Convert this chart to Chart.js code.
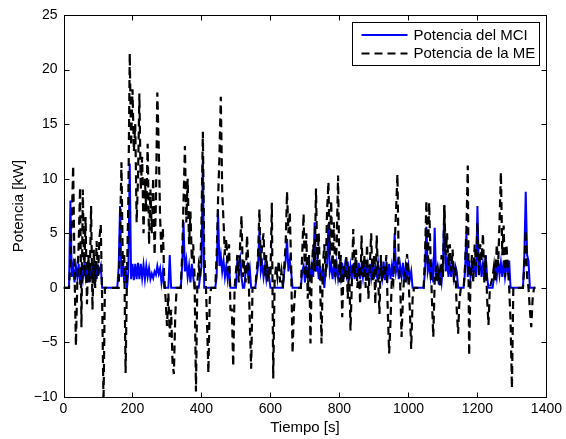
<!DOCTYPE html>
<html>
<head>
<meta charset="utf-8">
<script src="https://cdn.jsdelivr.net/npm/chart.js@4.4.0/dist/chart.umd.min.js"></script>
<style>
  html, body { margin: 0; padding: 0; background: #fff; }
  #wrap { width: 566px; height: 439px; }
</style>
</head>
<body>
<div id="wrap"><canvas id="powerChart" width="566" height="439"></canvas></div>
<script>
// logged signals, one sample every 4 s (t = 0 ... 1368 s)
const sampleStep = 4;

// Potencia de la ME [kW]
const mePower = [
  0, 0, 0, 0, 0, 2.5, 6, 11.2, 1.5, -5.3,            // 0
  0.5, 4, 9.2, -3.6, 9, 1, 6.5, -1.5, 3, 0.5,         // 40
  7.5, -2, 3.5, 0, 4.3, 1, 4.5, 5.8, -1, -10.5,       // 80
  0, 0, 0, 0, 0, 0, 0, 0, 0, 0,                       // 120
  0, 5, 11.5, 2, 3, -7.8, 1, 8, 21.5, 13,             // 160
  18.2, 12.5, 15, 6, 10, 17.8, 9, 12, 5, 10,          // 200
  7, 13.2, 4, 9, 5, 10.1, 3, 8, 17.9, 13,             // 240
  6.5, 3, 5.5, 1, -1, -3.5, -0.5, -4.5, -2, -6.8,     // 280
  -7.9, -2.5, 0, 0, 0, 0, 3, 8, 13, 6,                // 320
  10, 4, 7, 2.5, 4, 1, -9.5, 0.5, 2, 1,               // 360
  6, 14.3, 3, 1, -3, -7.8, -1, 0, 0, 0,               // 400
  0, 3, 8, 12, 17.5, 9, 6, 3, 4.5, 1.5,               // 440
  4, -2, -2, -7.2, 0, 1.5, 3, 0.5, 4, 6.6,            // 480
  1, 2.5, 0.5, 4.8, 2, -3, -7.4, 0, 0, 0,             // 520
  1.5, 3, 7.2, 2, 4, 5, 1, 3, 0.5, 2,                 // 560
  1, 7.8, -8.3, 0.5, 2, 1, 2.5, 0.5, 1.5, 0,          // 600
  2, 4, 8.8, 5, 7, 2, -6, -2, 0, 0,                   // 640
  0, 0, 0, 3, 6.8, 1, 5, -1, 3, -5.1,                 // 680
  2, 4, 1.5, 9.1, 2, 5, 0.5, -5.1, 2, 4,              // 720
  1, 7, 9.7, 3, 8, 2, 6, 1, 4, 10.3,                  // 760
  0.5, 3, -2.7, 2, 1, 3, -1, 2, -3.9, 0.5,            // 800
  5.4, 1, 3.5, 0, 2, -1.5, 4.8, 1, 3, 0,              // 840
  4, -1, 2, 5, 0.5, 3, -1.5, 4.8, 1, -2.4,            // 880
  3, 0.5, 2, 1, 3, -2, -6, -3, 1, 0.5,                // 920
  4, 7, 10.4, 2, 0.5, -4.5, -1, 1.5, 0.5, 3.1,        // 960
  1, -2, -5.6, -1, 0, 0, 0, 0, 0, 0,                  // 1000
  0, 0, 3, 8, 2, 7.8, 3, -1, -4.5, 0.5,               // 1040
  2, 0.5, 1.5, 0, 3, 1, 7.6, 3, 5, 2,                 // 1080
  4, 1.5, 3.5, 0.5, 2, -2, -4.2, -1, 0, 0,            // 1120
  0, 2, 5.3, 11.2, -6.2, 1, 3, 0.5, 4, 2,             // 1160
  6, 1, 4, 2.5, 5, 0.5, 3, -1, -3.4, 0,               // 1200
  0.5, 1, 2, 0.5, 4, 2, 6, 10.6, 3, 5.7,              // 1240
  1, 4, 2, 0, -3, -9.2, 0, 0, 0, 0,                   // 1280
  0, 0, 0, 0, 2, 5.3, 1, 0, -2, -3.6,                 // 1320
  -1, 0, 0                                            // 1360
];

// Potencia del MCI [kW]
const mciPower = [
  0, 0, 0, 0, 0, 8, 1, 2, 0.5, 2,                     // 0
  1, 2.2, 0.3, 1.8, 0.8, 2, 1, 2.2, 0.5, 1.8,         // 40
  1, 2.3, 1, 2.2, 0.8, 2, 1.5, 2, 0, 0,               // 80
  0, 0, 0, 0, 0, 0, 0, 0, 0, 0,                       // 120
  2, 7.5, 1, 2.5, 0.5, 2, 0, 1.5, 11.4, 0.8,          // 160
  2.2, 0.7, 2.2, 0.8, 2.3, 0.8, 2.2, 0.9, 2.1, 0.8,   // 200
  2, 1, 1.8, 0.8, 1.3, 0.9, 1.5, 1.2, 2, 1.3,         // 240
  1.8, 0.5, 1.5, 0, 0, 0, 0, 3, 0, 0,                 // 280
  0, 0, 0, 0, 0, 0, 2, 6, 1.5, 2.5,                   // 320
  1, 2, 0.5, 2.2, 1, 0, 0, 0, 0, 1,                   // 360
  2, 12, 0, 0, 0, 0, 0, 0, 0, 0,                      // 400
  0, 1, 7.2, 2, 3, 1.5, 2.5, 1, 2, 0.8,               // 440
  2, 0, 0, 0, 0, 0, 2.5, 2, 2.7, 1,                   // 480
  0, 0, 1.5, 2, 1, 1.8, 0, 0, 0, 0,                   // 520
  1, 2, 5.4, 1.5, 2.2, 1, 2, 0.8, 1.8, 1,             // 560
  0, 0, 0, 0, 0, 0, 0, 0, 0, 0,                       // 600
  1.5, 2.5, 4.5, 1.5, 2.5, 1.5, 0, 0, 0, 0,           // 640
  0, 0, 0, 1.5, 2, 0.5, 2, 1, 2.2, 0.8,               // 680
  2, 1, 6, 1.5, 2.3, 0.8, 2, 0.6, 1.8, 0,             // 720
  1.5, 2, 5.9, 1.5, 2.2, 0.8, 2, 1, 2.2, 0.9,         // 760
  2, 1, 2.3, 0.8, 2, 1.2, 2.4, 0.7, 2, 1,             // 800
  2.2, 0.8, 2, 1.1, 2.3, 0.8, 2.1, 1, 2.4, 0.9,       // 840
  2, 0.7, 2.2, 1, 2.3, 0.8, 2, 1.2, 2.2, 0.8,         // 880
  2.1, 1, 2.4, 0.7, 2, 1, 2.2, 0.8, 2, 1,             // 920
  5, 1.5, 2.2, 0.8, 2, 1, 2.3, 0.7, 2, 1,             // 960
  2, 0.8, 1.5, 0, 0, 0, 0, 0, 0, 0,                   // 1000
  0, 0, 1.5, 5.6, 1.5, 2.2, 1, 2, 0.5, 5.5,           // 1040
  1, 1.8, 0.3, 1.5, 0.5, 2, 7.5, 1.5, 2.5, 1,         // 1080
  2.2, 1, 2.5, 1, 2, 1.5, 0, 0, 0, 0,                 // 1120
  0, 1.5, 5, 1, 2.5, 1, 2, 1.5, 2.2, 1,               // 1160
  7.5, 1.5, 2.5, 1, 2.2, 1, 3, 1, 0, 0,               // 1200
  0, 0, 1, 2, 1, 2.5, 1.2, 2.3, 1, 2.5,               // 1240
  1, 2, 1.5, 2.5, 0, 0, 0, 0, 0, 0,                   // 1280
  0, 0, 0, 0, 3, 8.8, 3, 2.5, 0, 0,                   // 1320
  0, 0, 0                                             // 1360
];

const xTicks = [0, 200, 400, 600, 800, 1000, 1200, 1400];
const yTicks = [-10, -5, 0, 5, 10, 15, 20, 25];
const seriesLabels = ['Potencia del MCI', 'Potencia de la ME'];
const seriesColors = ['#0000ff', '#000000'];
const meDash = [8, 5];

const fontFamily = '"Liberation Sans", Arial, Helvetica, sans-serif';

function toPoints(values) {
  return values.map((v, i) => ({ x: i * sampleStep, y: v }));
}

// box round the axes with inward ticks on all four sides
const frameTicks = {
  id: 'frameTicks',
  afterDatasetsDraw(chart) {
    const { ctx, chartArea: a, scales: { x, y } } = chart;
    const L = Math.round(a.left) + 0.5, R = Math.round(a.right) + 0.5;
    const T = Math.round(a.top) + 0.5, B = Math.round(a.bottom) + 0.5;
    ctx.save();
    ctx.strokeStyle = '#000';
    ctx.lineWidth = 1;
    ctx.beginPath();
    xTicks.forEach(t => {
      const px = Math.round(x.getPixelForValue(t)) + 0.5;
      ctx.moveTo(px, B); ctx.lineTo(px, B - 5);
      ctx.moveTo(px, T); ctx.lineTo(px, T + 5);
    });
    yTicks.forEach(t => {
      const py = Math.round(y.getPixelForValue(t)) + 0.5;
      ctx.moveTo(L, py); ctx.lineTo(L + 5, py);
      ctx.moveTo(R, py); ctx.lineTo(R - 5, py);
    });
    ctx.stroke();
    ctx.strokeRect(L, T, R - L, B - T);
    ctx.restore();
  }
};

// legend box in the upper right corner of the axes
const boxLegend = {
  id: 'boxLegend',
  afterDraw(chart) {
    const { ctx, chartArea: a } = chart;
    const right = Math.round(a.right) - 6.5;
    const left = right - 187;
    const top = Math.round(a.top) + 7.5;
    const h = 43;
    ctx.save();
    ctx.fillStyle = '#fff';
    ctx.fillRect(left, top, right - left, h);
    ctx.strokeStyle = '#000';
    ctx.lineWidth = 1;
    ctx.strokeRect(left, top, right - left, h);
    ctx.font = '15px ' + fontFamily;
    ctx.textBaseline = 'middle';
    ctx.fillStyle = '#000';
    seriesLabels.forEach((lbl, i) => {
      const yy = top + 12.5 + i * 18.5;
      ctx.beginPath();
      ctx.lineWidth = 2;
      ctx.strokeStyle = seriesColors[i];
      ctx.setLineDash(i === 1 ? meDash : []);
      ctx.moveTo(left + 9, yy);
      ctx.lineTo(left + 55, yy);
      ctx.stroke();
      ctx.setLineDash([]);
      ctx.fillText(lbl, left + 61, yy + 0.5);
    });
    ctx.restore();
  }
};

const ctx = document.getElementById('powerChart').getContext('2d');
new Chart(ctx, {
  type: 'line',
  data: {
    datasets: [
      {
        label: seriesLabels[0],
        data: toPoints(mciPower),
        borderColor: seriesColors[0],
        borderWidth: 2,
        pointRadius: 0,
        tension: 0,
        order: 1
      },
      {
        label: seriesLabels[1],
        data: toPoints(mePower),
        borderColor: seriesColors[1],
        borderWidth: 2.2,
        borderDash: meDash,
        pointRadius: 0,
        tension: 0,
        order: 0
      }
    ]
  },
  options: {
    responsive: false,
    animation: false,
    devicePixelRatio: 1,
    parsing: false,
    normalized: true,
    layout: { padding: { left: 0, right: 18, top: 15, bottom: 0 } },
    plugins: {
      legend: { display: false },
      tooltip: { enabled: false }
    },
    scales: {
      x: {
        type: 'linear',
        min: 0,
        max: 1400,
        grid: { display: false, drawTicks: false },
        border: { display: false },
        afterFit(scale) { scale.height = 42; },
        afterBuildTicks(scale) { scale.ticks = xTicks.map(v => ({ value: v })); },
        ticks: {
          autoSkip: false,
          maxRotation: 0,
          padding: 4,
          color: '#000',
          font: { family: fontFamily, size: 14 },
          callback: v => String(v)
        },
        title: {
          display: true,
          text: 'Tiempo [s]',
          color: '#000',
          padding: { top: 0, bottom: 2 },
          font: { family: fontFamily, size: 15 }
        }
      },
      y: {
        type: 'linear',
        min: -10,
        max: 25,
        grid: { display: false, drawTicks: false },
        border: { display: false },
        afterFit(scale) { scale.width = 63.5; },
        afterBuildTicks(scale) { scale.ticks = yTicks.map(v => ({ value: v })); },
        ticks: {
          padding: 6,
          color: '#000',
          font: { family: fontFamily, size: 14 },
          callback: v => String(v).replace('-', '\u2212')
        },
        title: {
          display: true,
          text: 'Potencia [kW]',
          color: '#000',
          padding: { top: 10, bottom: 0 },
          font: { family: fontFamily, size: 15 }
        }
      }
    }
  },
  plugins: [frameTicks, boxLegend]
});
</script>
</body>
</html>
